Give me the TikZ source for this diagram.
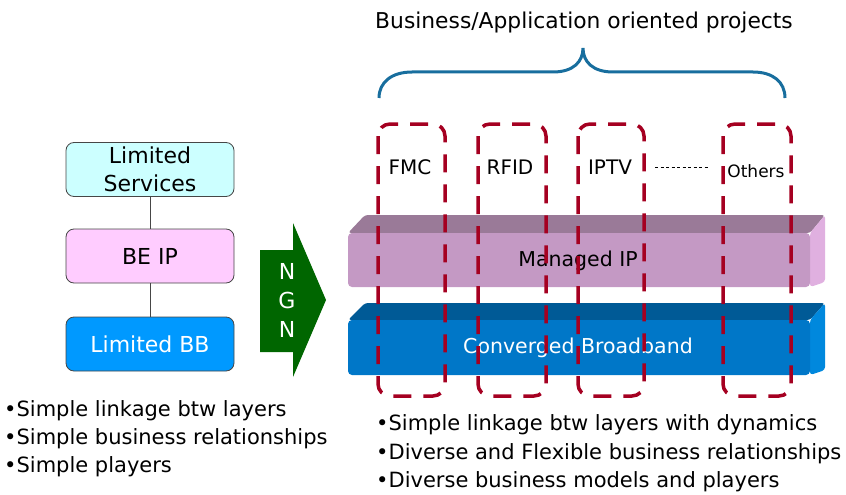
\documentclass[tikz,border=0pt]{standalone}
\usepackage{fontspec}
\setmainfont{DejaVu Sans}
\definecolor{svcfill}{RGB}{204,255,255}
\definecolor{ipfill}{RGB}{255,204,255}
\definecolor{bbfill}{RGB}{0,153,255}
\definecolor{boxline}{RGB}{70,70,70}
\definecolor{ngngreen}{RGB}{0,102,0}
\definecolor{bracecol}{RGB}{24,110,158}
\definecolor{projred}{RGB}{165,0,33}
\definecolor{mipfront}{RGB}{196,153,196}
\definecolor{miptop}{RGB}{154,122,152}
\definecolor{mipside}{RGB}{224,176,224}
\definecolor{cbfront}{RGB}{0,119,200}
\definecolor{cbtop}{RGB}{0,90,150}
\definecolor{cbside}{RGB}{0,136,221}
\tikzset{
  layerbox/.style={draw=boxline, line width=0.8pt, rounded corners=8pt,
    minimum width=168pt, minimum height=54pt, inner sep=0pt, align=center,
    font=\fontsize{22}{28}\selectfont},
  projbox/.style={draw=projred, line width=3.5pt, rounded corners=12pt,
    dash pattern=on 18pt off 12pt},
  bullet/.style={anchor=west, inner sep=0pt, font=\fontsize{21}{23}\selectfont},
  label/.style={inner sep=0pt, font=\fontsize{20}{22}\selectfont},
}
\begin{document}
\begin{tikzpicture}[x=1pt,y=-1pt]
\useasboundingbox (0,0) rectangle (846,495);

% left column: legacy layers
\node[layerbox, fill=svcfill] (svc) at (150,169.5) {Limited\\Services};
\node[layerbox, fill=ipfill] (beip) at (150,256) {BE IP};
\node[layerbox, fill=bbfill, text=white] (lbb) at (150,344) {Limited BB};
\draw[boxline, line width=0.8pt] (svc.south) -- (beip.north);
\draw[boxline, line width=0.8pt] (beip.south) -- (lbb.north);

% NGN transition arrow
\fill[ngngreen] (260,250) -- (293,250) -- (293,223) -- (326,300) -- (293,377)
  -- (293,352) -- (260,352) -- cycle;
\node[text=white, align=center, inner sep=0pt, font=\fontsize{22}{29}\selectfont]
  (ngn) at (287,300) {N\\G\\N};

% Managed IP bar (3D)
\fill[miptop, rounded corners=3pt] (348,233) -- (365,215) -- (825,215) -- (810,233) -- cycle;
\fill[mipside, rounded corners=3pt] (810,233) -- (825,215) -- (825,282) -- (810,287) -- cycle;
\fill[mipfront, rounded corners=4pt] (348,233) rectangle (810,287);
\node[label, font=\fontsize{20.5}{22}\selectfont] (mip) at (578,261) {Managed IP};

% Converged Broadband bar (3D)
\fill[cbtop, rounded corners=3pt] (348,320) -- (365,303) -- (825,303) -- (810,320) -- cycle;
\fill[cbside, rounded corners=3pt] (810,320) -- (825,303) -- (825,370) -- (810,375) -- cycle;
\fill[cbfront, rounded corners=4pt] (348,320) rectangle (810,375);
\node[label, text=white, font=\fontsize{20.5}{22}\selectfont] (cbb) at (578,348) {Converged Broadband};

% brace and heading
\node[label, font=\fontsize{21.8}{24}\selectfont] (head) at (584,22) {Business/Application oriented projects};
\draw[bracecol, line width=3pt]
  (379,98) .. controls (379,82) and (392,72) .. (412,72) -- (553,72)
  .. controls (573,72) and (583,62) .. (583,48)
  .. controls (583,62) and (593,72) .. (613,72) -- (753,72)
  .. controls (773,72) and (785,82) .. (785,98);

% project labels
\node[label] (fmc) at (410,167) {FMC};
\node[label] (rfid) at (510,167) {RFID};
\node[label] (iptv) at (610,167) {IPTV};
\node[label, font=\fontsize{17}{19}\selectfont] (oth) at (756,171) {Others};
\draw[black, line width=0.7pt, dash pattern=on 3pt off 2.5pt] (655,167) -- (708,167);

% project columns
\draw[projbox] (378,124) rectangle (445,396);
\draw[projbox] (478,124) rectangle (546,396);
\draw[projbox] (578,124) rectangle (644,396);
\draw[projbox] (723,124) rectangle (791,396);

% bullet lists
\node[bullet] (l1) at (4,411) {•Simple linkage btw layers};
\node[bullet] (l2) at (4,439) {•Simple business relationships};
\node[bullet] (l3) at (4,467) {•Simple players};
\node[bullet] (r1) at (376,425) {•Simple linkage btw layers with dynamics};
\node[bullet] (r2) at (376,454) {•Diverse and Flexible business relationships};
\node[bullet] (r3) at (376,482) {•Diverse business models and players};
\end{tikzpicture}
\end{document}
